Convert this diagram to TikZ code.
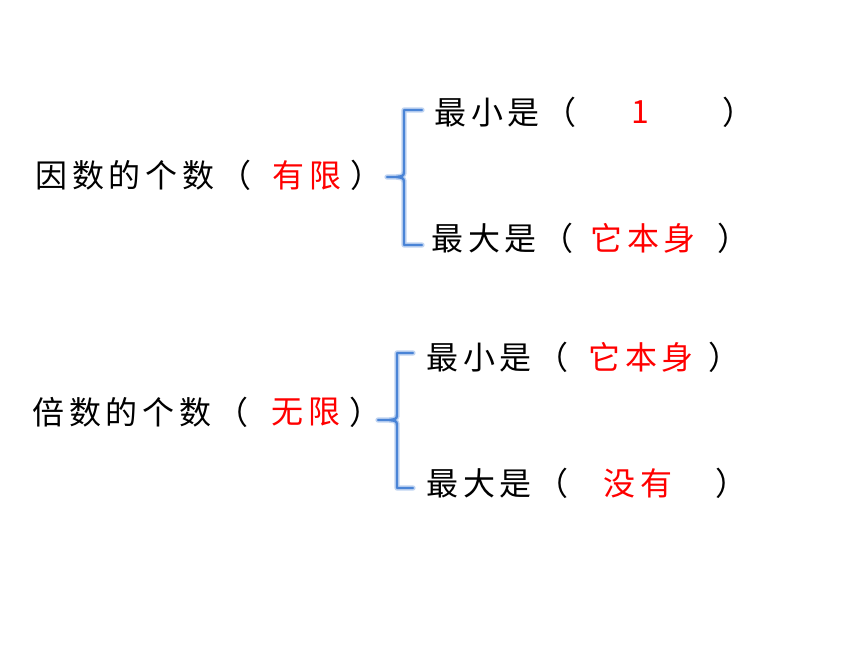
\documentclass[tikz,border=0pt]{standalone}
\usepackage{fontspec}
\setmainfont{Noto Sans CJK SC}
\definecolor{braceblue}{RGB}{74,132,214}
\begin{document}
\begin{tikzpicture}[x=0.75pt,y=-0.75pt,
  txt/.style={anchor=west,inner sep=0pt,font=\fontsize{24}{28}\selectfont\addfontfeature{LetterSpace=15}},
  ans/.style={txt,text=red},
  brace/.style={draw=braceblue,line width=1.8pt,line cap=round,line join=round},
  glow/.style={draw=braceblue!35,line width=4pt,line cap=round,line join=round}]
\useasboundingbox (0,0) rectangle (860,645);
% factors
\node[txt] (fLabel) at (35,175) {因数的个数（};
\node[ans] (fAns) at (272,175) {有限};
\node[txt] (fEnd) at (350,175) {）};
\node[txt] (fMin) at (434,112) {最小是（};
\node[ans,anchor=center] (fMinAns) at (640,112) {1};
\node[txt] (fMinEnd) at (722,112) {）};
\node[txt] (fMax) at (431,238) {最大是（};
\node[ans] (fMaxAns) at (590,238) {它本身};
\node[txt] (fMaxEnd) at (717,238) {）};
\foreach \s in {glow,brace}
  \draw[\s] (422,110) -- (404,110) -- (404,170) .. controls (404,176) .. (396,177) -- (387,177)
    (396,177) .. controls (404,178) .. (404,184) -- (404,245) -- (422,245);
% multiples
\node[txt] (mLabel) at (32,412) {倍数的个数（};
\node[ans] (mAns) at (271,412) {无限};
\node[txt] (mEnd) at (349,412) {）};
\node[txt] (mMin) at (426,357) {最小是（};
\node[ans] (mMinAns) at (588,357) {它本身};
\node[txt] (mMinEnd) at (708,357) {）};
\node[txt] (mMax) at (426,483) {最大是（};
\node[ans] (mMaxAns) at (603,483) {没有};
\node[txt] (mMaxEnd) at (715,483) {）};
\foreach \s in {glow,brace}
  \draw[\s] (413,353) -- (397,353) -- (397,413) .. controls (397,419) .. (389,420) -- (378,420)
    (389,420) .. controls (397,421) .. (397,427) -- (397,488) -- (413,488);
\end{tikzpicture}
\end{document}
